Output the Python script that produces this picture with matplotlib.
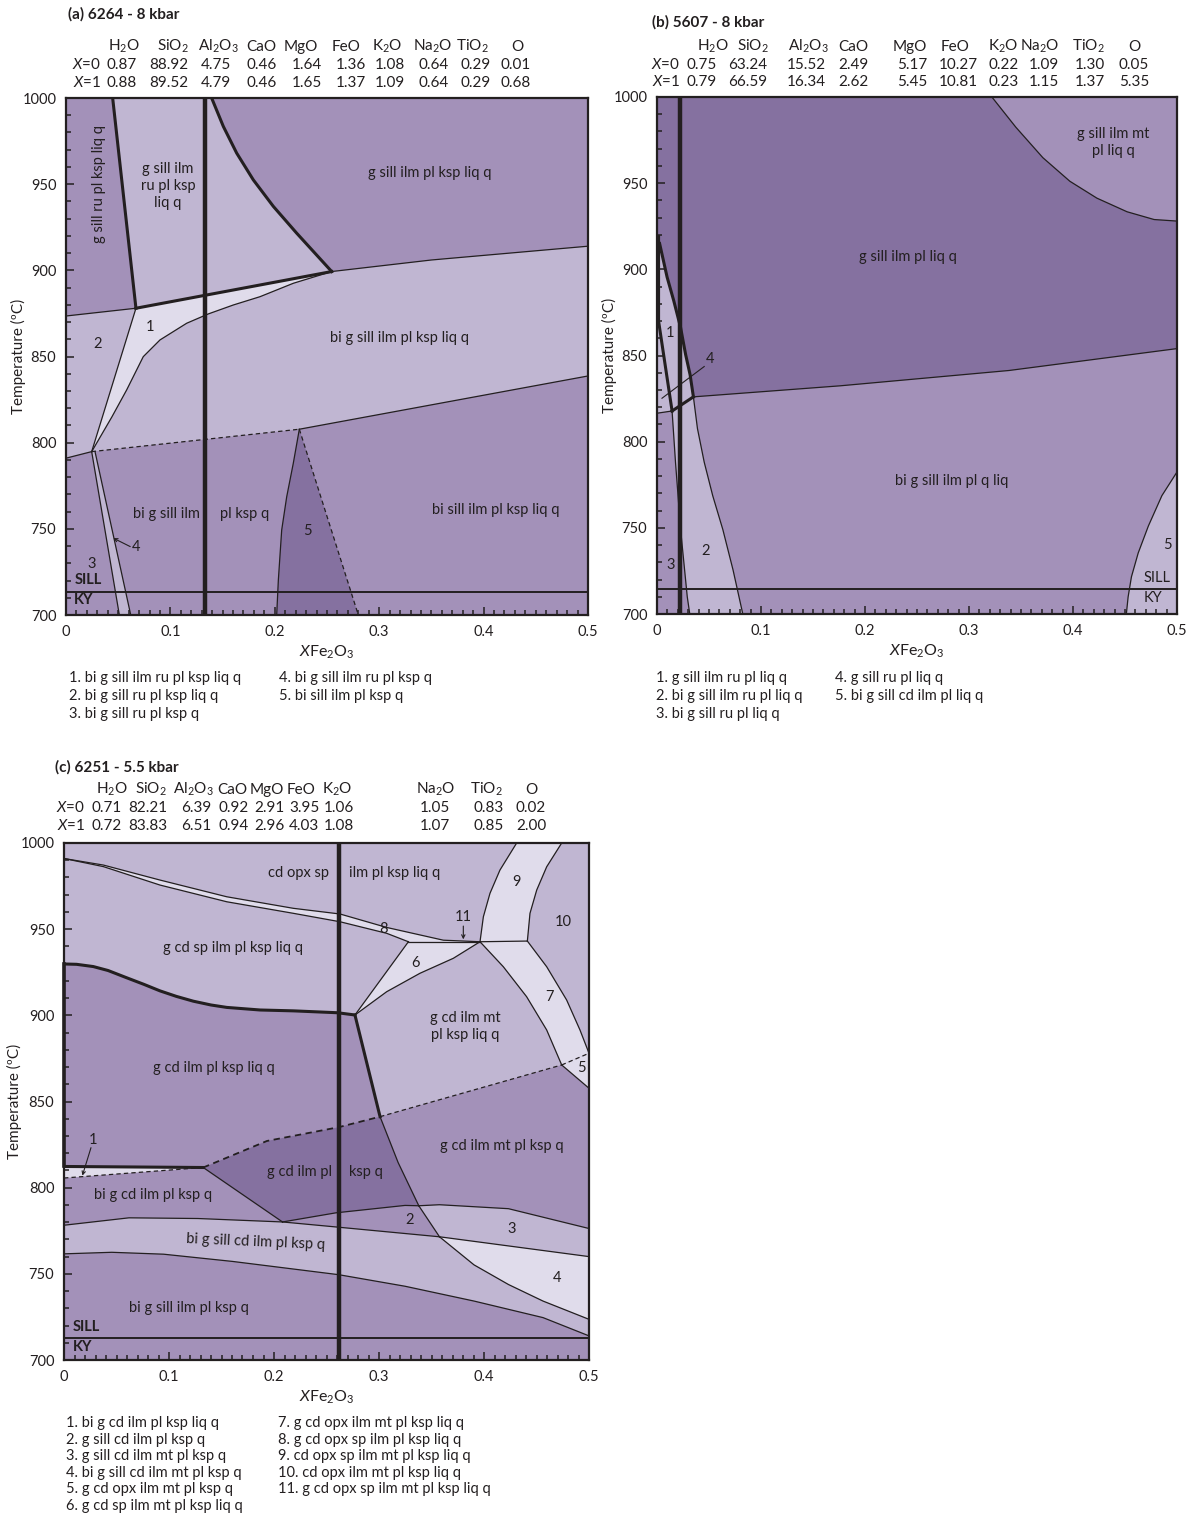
import matplotlib
matplotlib.use("Agg")
import matplotlib.pyplot as plt
from matplotlib.ticker import MultipleLocator, FuncFormatter

plt.rcParams["font.family"] = ["Lato", "DejaVu Sans"]
plt.rcParams["mathtext.fontset"] = "custom"
plt.rcParams["mathtext.rm"] = "Lato"
plt.rcParams["mathtext.it"] = "Lato:italic"
plt.rcParams["mathtext.bf"] = "Lato:bold"

INK = "#231f20"
DARK = "#8571a0"
MED = "#a391b9"
LIGHT = "#c0b6d2"
PALE = "#e0dceb"

# ---- bulk compositions (mol%) ----
OXIDES = [r"H$_2$O", r"SiO$_2$", r"Al$_2$O$_3$", "CaO", "MgO", "FeO",
          r"K$_2$O", r"Na$_2$O", r"TiO$_2$", "O"]
A_X0 = [0.87, 88.92, 4.75, 0.46, 1.64, 1.36, 1.08, 0.64, 0.29, 0.01]
A_X1 = [0.88, 89.52, 4.79, 0.46, 1.65, 1.37, 1.09, 0.64, 0.29, 0.68]
B_X0 = [0.75, 63.24, 15.52, 2.49, 5.17, 10.27, 0.22, 1.09, 1.30, 0.05]
B_X1 = [0.79, 66.59, 16.34, 2.62, 5.45, 10.81, 0.23, 1.15, 1.37, 5.35]
C_X0 = [0.71, 82.21, 6.39, 0.92, 2.91, 3.95, 1.06, 1.05, 0.83, 0.02]
C_X1 = [0.72, 83.83, 6.51, 0.94, 2.96, 4.03, 1.08, 1.07, 0.85, 2.00]

# ---- (a) 6264 - 8 kbar : field boundaries as (XFe2O3, T) ----
A_RU_OUT = ([0.0447, 0.067], [1000, 878])
A_KSP = ([0.1395, 0.1507, 0.1635, 0.1794, 0.1986, 0.2209, 0.2545],
         [1000, 983.5, 968.0, 952.5, 937.1, 921.6, 899.3])
A_BI_IN = ([0.067, 0.2545], [878, 899.3])
A_BI_R = ([0.2545, 0.35, 0.5], [899.3, 906, 914])
A_BI_L = ([0, 0.067], [873.5, 878])
A_F1_L = ([0.067, 0.0246], [878, 794.8])
A_F1_R = ([0.2545, 0.2178, 0.1858, 0.1603, 0.1363, 0.1156, 0.09, 0.074, 0.0581, 0.044, 0.0246],
          [899.3, 892.5, 884.7, 879.9, 874.7, 869.3, 859.6, 849.9, 830.6, 815, 794.8])
A_LIQ_L = ([0, 0.0246], [791, 794.8])
A_LIQ_M = ([0.0246, 0.2235], [794.8, 807.8])
A_LIQ_R = ([0.2235, 0.5], [807.8, 838.7])
A_F4_L = ([0.0246, 0.0511], [794.8, 700])
A_F4_R = ([0.0278, 0.062], [794.8, 700])
A_F5_L = ([0.2235, 0.2177, 0.2114, 0.2066, 0.2034, 0.2018],
          [807.8, 788, 768.6, 749.3, 720.3, 700])
A_F5_R = ([0.2235, 0.28], [807.8, 700])
A_XSAMPLE = 0.133
A_SILL_KY = 713.3

# ---- (b) 5607 - 8 kbar ----
B_R = ([0.0015, 0.0015, 0.0145], [919, 870, 817.8])
B_Q = ([0.0025, 0.0097, 0.0161, 0.0227, 0.0275, 0.0318, 0.035],
       [915, 895.5, 881.8, 866.2, 850.6, 838.9, 826])
B_S = ([0.0145, 0.035], [817.8, 826])
B_LEFT = ([0, 0.0145], [816.5, 817.8])
B_BI = ([0.035, 0.176, 0.3385, 0.5], [826, 832.4, 841.3, 854])
B_F3 = ([0.0145, 0.0178, 0.0227, 0.0291, 0.0315], [817.8, 788, 749, 710, 700])
B_F2 = ([0.035, 0.0389, 0.0454, 0.0536, 0.0633, 0.0731, 0.0825],
        [826, 807.6, 788.1, 768.6, 749, 725.6, 700])
B_MT = ([0.322, 0.345, 0.371, 0.397, 0.423, 0.452, 0.478, 0.5],
        [1000, 982.5, 964.8, 951.1, 941.3, 933.4, 928.9, 928])
B_F5 = ([0.5, 0.4855, 0.4725, 0.4627, 0.4562, 0.453, 0.4513],
        [782.4, 768.7, 751.1, 735.4, 721.6, 709.9, 700])
B_XSAMPLE = 0.022
B_SILL_KY = 714.4

# ---- (c) 6251 - 5.5 kbar ----
C_F8_TOP = ([0, 0.0375, 0.0914, 0.155, 0.2184, 0.2629, 0.3073, 0.3613, 0.3962],
            [991, 987.2, 978.5, 968.8, 962.1, 958.8, 951, 943.6, 942.7])
C_F8_BOT = ([0, 0.0375, 0.0914, 0.155, 0.2184, 0.2629, 0.3073, 0.328],
            [991, 986.3, 975.6, 965.9, 959.2, 954.3, 947.6, 942.7])
C_F6_TOP = ([0.328, 0.3962], [942.7, 942.7])
C_F9_BOT = ([0.3962, 0.4413], [942.7, 943.1])
C_SP_OUT = ([0, 0.012, 0.0279, 0.042, 0.0597, 0.076, 0.0914, 0.107, 0.1232, 0.14,
             0.155, 0.1867, 0.2184, 0.2606, 0.2771],
            [929.8, 929.6, 928.3, 926, 921.8, 918, 914.2, 911, 908.2, 906,
             904.6, 903.1, 902.6, 901.5, 900.2])
C_MT_IN = ([0.2771, 0.301], [900.2, 841.2])
C_F6_L = ([0.2771, 0.328], [900.2, 942.7])
C_F6_R = ([0.2771, 0.3073, 0.339, 0.3708, 0.3962], [900.2, 913.7, 924.4, 933.1, 942.7])
C_F9_L = ([0.3962, 0.3994, 0.4057, 0.4152, 0.4311], [942.7, 957.2, 970.8, 984.3, 1000])
C_F9_R = ([0.4413, 0.4438, 0.4502, 0.4597, 0.474], [943.1, 959.2, 972.7, 986.2, 1000])
C_F7_L = ([0.3962, 0.4184, 0.4406, 0.4597, 0.474], [942.7, 928.2, 910.8, 891.5, 871.2])
C_F7_R = ([0.4413, 0.4597, 0.4787, 0.4914, 0.5], [943.1, 928.2, 908.9, 891.5, 878])
C_F5_TOP = ([0.474, 0.5], [871.2, 878])
C_F5_BOT = ([0.474, 0.5], [871.2, 857.7])
C_LIQ_OUT = ([0.301, 0.474], [841.2, 871.2])
C_F1_TOP = ([0, 0.0668, 0.1326], [812.3, 812, 811.7])
C_F1_BOT = ([0, 0.1326], [805.6, 811.7])
C_BI_OUT = ([0.1326, 0.1933, 0.2617, 0.301], [811.7, 827.1, 835.1, 841.2])
C_MT_R1 = ([0.301, 0.3182, 0.3379], [841.2, 814.6, 789.5])
C_MT_R2 = ([0.3379, 0.3576], [789.5, 771.5])
C_MT_R3 = ([0.3576, 0.3905, 0.4233, 0.4562, 0.5], [771.5, 755.2, 743.8, 734.2, 723.6])
C_BI_L = ([0.1326, 0.2081], [811.7, 780.1])
C_F2_TOP = ([0.2081, 0.259, 0.3248, 0.3379], [780.1, 785.4, 789.7, 789.5])
C_F3_TOP = ([0.3379, 0.3576, 0.4233, 0.5], [789.5, 790.1, 787.8, 776.3])
C_SILL_A = ([0, 0.0619, 0.1276, 0.2081], [778.2, 782.5, 782.1, 780.1])
C_SILL_B = ([0.2081, 0.259, 0.3576], [780.1, 777.2, 771.5])
C_SILL_C = ([0.3576, 0.5], [771.5, 760])
C_SILL_BOT = ([0, 0.0455, 0.0948, 0.1605, 0.2617, 0.3248, 0.3905, 0.4562, 0.5],
              [761.6, 762.5, 761.4, 757.2, 749.5, 742.8, 734.2, 724.6, 714])
C_XSAMPLE = 0.262
C_SILL_KY = 712.8

# ---- numbered field keys ----
A_KEY = ["1. bi g sill ilm ru pl ksp liq q", "2. bi g sill ru pl ksp liq q",
         "3. bi g sill ru pl ksp q", "4. bi g sill ilm ru pl ksp q",
         "5. bi sill ilm pl ksp q"]
B_KEY = ["1. g sill ilm ru pl liq q", "2. bi g sill ilm ru pl liq q",
         "3. bi g sill ru pl liq q", "4. g sill ru pl liq q",
         "5. bi g sill cd ilm pl liq q"]
C_KEY = ["1. bi g cd ilm pl ksp liq q", "2. g sill cd ilm pl ksp q",
         "3. g sill cd ilm mt pl ksp q", "4. bi g sill cd ilm mt pl ksp q",
         "5. g cd opx ilm mt pl ksp q", "6. g cd sp ilm mt pl ksp liq q",
         "7. g cd opx ilm mt pl ksp liq q", "8. g cd opx sp ilm pl ksp liq q",
         "9. cd opx sp ilm mt pl ksp liq q", "10. cd opx ilm mt pl ksp liq q",
         "11. g cd opx sp ilm mt pl ksp liq q"]

W, H = 1194, 1528
fig = plt.figure(figsize=(W / 100, H / 100), dpi=100)

LABEL_SIZE = 10.5
TABLE_SIZE = 11
KEY_SIZE = 10.5


def fx(px):
    return px / W


def fy(py):
    return 1 - py / H


def rev(c):
    return c[0][::-1], c[1][::-1]


def pt(x, t):
    return [x], [t]


def poly(ax, color, *parts):
    xs, ts = [], []
    for px, pts in parts:
        xs.extend(px)
        ts.extend(pts)
    ax.fill(xs, ts, color=color, lw=0, zorder=1)


def draw(ax, curves, lw=0.9, dashed=False):
    ls = (0, (3.5, 2.5)) if dashed else "-"
    for xs, ts in curves:
        ax.plot(xs, ts, color=INK, lw=lw, ls=ls, zorder=3)


def label(ax, items, size=LABEL_SIZE):
    for x, t, s, *rot in items:
        ax.text(x, t, s, ha="center", va="center", fontsize=size, color=INK,
                rotation=rot[0] if rot else 0, linespacing=1.3, zorder=5)


def setup(ax, rect, ylab_x):
    ax.set_position(rect)
    ax.set_xlim(0, 0.5)
    ax.set_ylim(700, 1000)
    ax.set_facecolor(MED)
    ax.xaxis.set_major_locator(MultipleLocator(0.1))
    ax.xaxis.set_minor_locator(MultipleLocator(0.01))
    ax.yaxis.set_major_locator(MultipleLocator(50))
    ax.yaxis.set_minor_locator(MultipleLocator(10))
    ax.xaxis.set_major_formatter(FuncFormatter(lambda v, p: "0" if abs(v) < 1e-9 else f"{v:.1f}"))
    ax.yaxis.set_major_formatter(FuncFormatter(lambda v, p: f"{v:.0f}"))
    ax.tick_params(which="both", direction="in", color=INK, width=1.1,
                   top=False, right=False, labelsize=10.5, labelcolor=INK)
    ax.tick_params(which="major", length=6, pad=7)
    ax.tick_params(which="minor", length=3.5)
    for s in ax.spines.values():
        s.set_linewidth(1.6)
        s.set_color(INK)
    ax.set_ylabel("Temperature (ºC)", fontsize=11, color=INK)
    ax.yaxis.set_label_coords(ylab_x, 0.5)
    ax.set_xlabel(r"$\mathit{X}$Fe$_2$O$_3$", fontsize=11.5, color=INK)
    ax.xaxis.set_label_coords(0.5, -0.055)


def sample_and_ky(ax, xs, ty):
    ax.axvline(xs, color=INK, lw=3.2, zorder=4)
    ax.axhline(ty, color=INK, lw=1.4, zorder=4)


def comp_table(title, tx, ty, head_y, row_y, lab_right, head_x, val_x, x0, x1):
    fig.text(fx(tx), fy(ty), title, fontsize=11, fontweight="bold", color=INK, va="baseline")
    for name, px in zip(OXIDES, head_x):
        fig.text(fx(px), fy(head_y), name, ha="center", va="baseline", fontsize=TABLE_SIZE, color=INK)
    for lab, vals, py in ((r"$\mathit{X}$=0", x0, row_y[0]), (r"$\mathit{X}$=1", x1, row_y[1])):
        fig.text(fx(lab_right), fy(py), lab, ha="right", va="baseline", fontsize=TABLE_SIZE, color=INK)
        for v, px in zip(vals, val_x):
            fig.text(fx(px), fy(py), f"{v:.2f}", ha="center", va="baseline", fontsize=TABLE_SIZE, color=INK)


def key(lines, cols, rows_y, n_first):
    for i, s in enumerate(lines):
        c = 0 if i < n_first else 1
        r = i if i < n_first else i - n_first
        fig.text(fx(cols[c]), fy(rows_y[r]), s, ha="left", va="baseline", fontsize=KEY_SIZE, color=INK)


def side_text(ax, x, t, s, bold=True):
    ax.text(x, t, s, ha="left", va="center", fontsize=LABEL_SIZE,
            fontweight="bold" if bold else "normal", color=INK, zorder=5)


def pointer(ax, tip, tail):
    ax.annotate("", xy=tip, xytext=tail,
                arrowprops=dict(arrowstyle="->", lw=0.8, color=INK, shrinkA=0, shrinkB=0, mutation_scale=6))


# ================= (a) =================
ax = fig.add_axes([0, 0, 1, 1])
setup(ax, [fx(66), fy(615), 522 / W, 517 / H], -0.077)
poly(ax, LIGHT, A_RU_OUT, A_BI_IN, rev(A_KSP))
poly(ax, LIGHT, A_BI_L, A_BI_IN, A_BI_R, pt(0.5, 838.7), rev(A_LIQ_R), rev(A_LIQ_M), rev(A_LIQ_L))
poly(ax, PALE, A_F1_L, rev(A_F1_R))
poly(ax, LIGHT, A_F4_L, rev(A_F4_R))
poly(ax, DARK, A_F5_L, rev(A_F5_R))
draw(ax, [A_RU_OUT, A_KSP, A_BI_IN], lw=2.2)
draw(ax, [A_BI_R, A_BI_L, A_F1_L, A_F1_R, A_LIQ_L, A_LIQ_R, A_F4_L, A_F4_R, A_F5_L])
draw(ax, [A_LIQ_M, A_F5_R], dashed=True)
sample_and_ky(ax, A_XSAMPLE, A_SILL_KY)
label(ax, [
    (0.0316, 950, "g sill ru pl ksp liq q", 90),
    (0.0977, 949, "g sill ilm\nru pl ksp\nliq q"),
    (0.3487, 956.5, "g sill ilm pl ksp liq q"),
    (0.0805, 867, "1"),
    (0.0307, 857, "2"),
    (0.3194, 861, "bi g sill ilm pl ksp liq q"),
    (0.0958, 758.6, "bi g sill ilm"),
    (0.1715, 758.6, "pl ksp q"),
    (0.2308, 748.7, "5"),
    (0.412, 761, "bi sill ilm pl ksp liq q"),
    (0.0249, 729.6, "3"),
])
side_text(ax, 0.0629, 739.7, "4", bold=False)
pointer(ax, (0.0453, 744.6), (0.0615, 739.7))
side_text(ax, 0.008, 720.3, "SILL")
side_text(ax, 0.008, 708.7, "KY")

comp_table("(a) 6264 - 8 kbar", 68, 19, 51, (69, 87), 101,
           [124, 173, 218, 261, 301, 346, 387, 433, 472, 517],
           [122, 169, 216, 262, 307, 351, 390, 434, 476, 516], A_X0, A_X1)
key(A_KEY, (69, 279), (682, 700, 718), 3)

# ================= (b) =================
ax = fig.add_axes([0, 0, 1, 1])
setup(ax, [fx(657), fy(614), 520 / W, 517 / H], -0.077)
poly(ax, DARK, pt(0, 1000), B_MT, pt(0.5, 854), rev(B_BI), rev(B_S), rev(B_LEFT))
poly(ax, LIGHT, B_R, B_S, rev(B_Q))
poly(ax, LIGHT, pt(0, 919), B_R, rev(B_LEFT))
poly(ax, LIGHT, B_F2, rev(B_F3), B_S)
poly(ax, LIGHT, B_F5, pt(0.5, 700))
draw(ax, [B_R, B_Q, B_S], lw=2.2)
draw(ax, [B_LEFT, B_BI, B_F3, B_F2, B_MT, B_F5])
sample_and_ky(ax, B_XSAMPLE, B_SILL_KY)
label(ax, [
    (0.439, 973.7, "g sill ilm mt\npl liq q"),
    (0.241, 907, "g sill ilm pl liq q"),
    (0.283, 777, "bi g sill ilm pl q liq"),
    (0.491, 740.3, "5"),
    (0.0129, 862.8, "1"),
    (0.047, 736.4, "2"),
    (0.0136, 728.4, "3"),
])
side_text(ax, 0.047, 848, "4", bold=False)
ax.plot([0.0454, 0.0048], [843.6, 825.2], color=INK, lw=0.8, zorder=5)
side_text(ax, 0.468, 720.7, "SILL", bold=False)
side_text(ax, 0.468, 709, "KY", bold=False)

comp_table("(b) 5607 - 8 kbar", 652, 27, 51, (69, 86), 680,
           [713, 753, 808, 853, 910, 955, 1003, 1040, 1088, 1134],
           [702, 748, 806, 853, 912, 958, 1004, 1044, 1090, 1134], B_X0, B_X1)
key(B_KEY, (656, 835), (682, 700, 718), 3)

# ================= (c) =================
ax = fig.add_axes([0, 0, 1, 1])
setup(ax, [fx(64), fy(1360), 525 / W, 517 / H], -0.08)
poly(ax, LIGHT, pt(0, 1000), rev(C_F9_L), rev(C_F6_R), rev(C_SP_OUT))
poly(ax, PALE, C_F8_TOP, rev(C_F6_TOP), rev(C_F8_BOT))
poly(ax, PALE, C_F6_L, C_F6_TOP, rev(C_F6_R))
poly(ax, PALE, C_F9_L, rev(C_F9_R), rev(C_F9_BOT))
poly(ax, LIGHT, C_F9_R, pt(0.5, 1000), rev(C_F7_R))
poly(ax, PALE, C_F7_L, C_F5_TOP, rev(C_F7_R), rev(C_F9_BOT))
poly(ax, PALE, C_F5_TOP, rev(C_F5_BOT))
poly(ax, LIGHT, C_F6_R, C_F7_L, rev(C_LIQ_OUT), rev(C_MT_IN))
poly(ax, PALE, C_F1_TOP, rev(C_F1_BOT))
poly(ax, DARK, C_BI_OUT, C_MT_R1, rev(C_F2_TOP), rev(C_BI_L))
poly(ax, LIGHT, C_F3_TOP, pt(0.5, 760), rev(C_SILL_C), rev(C_MT_R2))
poly(ax, PALE, C_SILL_C, rev(C_MT_R3))
poly(ax, LIGHT, C_SILL_A, C_SILL_B, C_MT_R3, pt(0.5, 714), rev(C_SILL_BOT))
draw(ax, [C_SP_OUT, C_MT_IN, C_F1_TOP], lw=2.2)
ax.plot([0, 0], [C_SP_OUT[1][0], C_F1_TOP[1][0]], color=INK, lw=2.6, clip_on=False, zorder=6)
draw(ax, [C_F8_TOP, C_F8_BOT, C_F6_TOP, C_F9_BOT, C_F6_L, C_F6_R, C_F9_L, C_F9_R,
          C_F7_L, C_F7_R, C_F5_BOT, C_MT_R1, C_MT_R2, C_MT_R3, C_BI_L, C_F2_TOP,
          C_F3_TOP, C_SILL_A, C_SILL_B, C_SILL_C, C_SILL_BOT])
draw(ax, [C_F5_TOP, C_LIQ_OUT, C_F1_BOT], dashed=True)
draw(ax, [C_BI_OUT], lw=1.3, dashed=True)
sample_and_ky(ax, C_XSAMPLE, C_SILL_KY)
label(ax, [
    (0.2229, 982.6, "cd opx sp"),
    (0.3152, 982.6, "ilm pl ksp liq q"),
    (0.304, 949.9, "8"),
    (0.4311, 977.5, "9"),
    (0.4755, 954.3, "10"),
    (0.3343, 930.2, "6"),
    (0.4622, 910.8, "7"),
    (0.493, 869.2, "5"),
    (0.1605, 938.9, "g cd sp ilm pl ksp liq q"),
    (0.1429, 869.3, "g cd ilm pl ksp liq q"),
    (0.3819, 893.4, "g cd ilm mt\npl ksp liq q"),
    (0.2246, 808.9, "g cd ilm pl"),
    (0.2876, 808.9, "ksp q"),
    (0.4167, 824.2, "g cd ilm mt pl ksp q"),
    (0.0848, 795.9, "bi g cd ilm pl ksp q"),
    (0.1827, 768.6, "bi g sill cd ilm pl ksp q", -2.5),
    (0.1186, 729.9, "bi g sill ilm pl ksp q"),
    (0.0274, 827.5, "1"),
    (0.3287, 781, "2"),
    (0.4267, 775.9, "3"),
    (0.47, 747.6, "4"),
])
label(ax, [(0.3803, 956.8, "11")])
pointer(ax, (0.3803, 944.1), (0.3803, 951.8))
pointer(ax, (0.0175, 807), (0.0257, 823.2))
side_text(ax, 0.008, 718.9, "SILL")
side_text(ax, 0.008, 707.8, "KY")

comp_table("(c) 6251 - 5.5 kbar", 55, 772, 794, (812, 830), 85,
           [112, 151, 193, 232, 267, 301, 337, 436, 486, 531],
           [107, 148, 196, 234, 269, 304, 339, 435, 489, 531], C_X0, C_X1)
key(C_KEY, (66, 278), [1427 + 16.6 * i for i in range(6)], 6)

fig.savefig("out.png", dpi=100)
